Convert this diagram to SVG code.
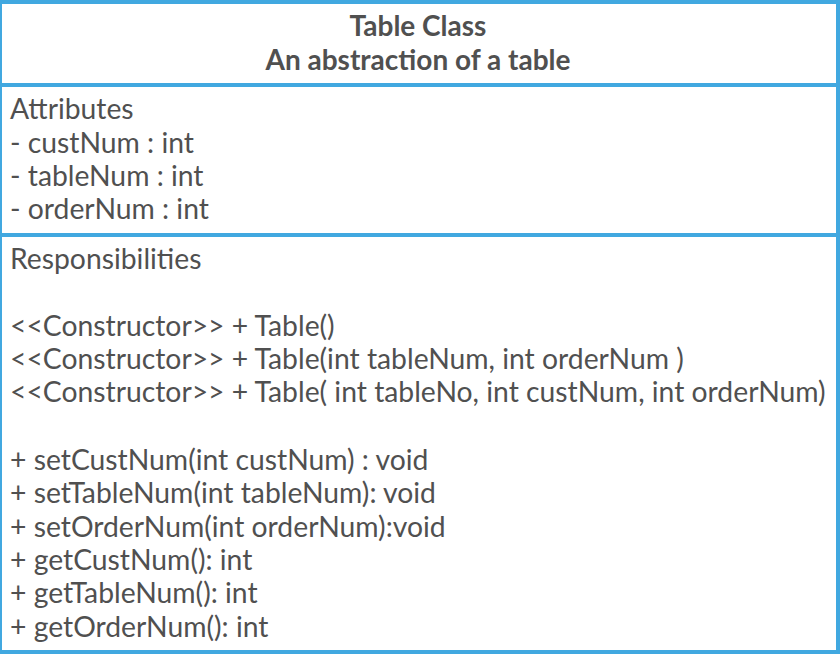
<svg xmlns="http://www.w3.org/2000/svg" width="840" height="654" viewBox="0 0 840 654">
<style>
.t{font-family:Lato,"Open Sans",sans-serif;font-size:28.3px;fill:#505050}
.b{font-weight:bold;text-anchor:middle;font-size:28px}
.ln{stroke:#41a8e0;stroke-width:4;fill:none}
</style>
<g id="table-class">
<rect x="0" y="2" width="838" height="650" fill="#ffffff" class="ln"/>
<line x1="0" y1="85" x2="838" y2="85" class="ln"/>
<line x1="0" y1="235" x2="838" y2="235" class="ln"/>
<text class="t b" x="418" y="36">Table Class</text>
<text class="t b" x="418" y="70">An abstraction of a table</text>
<text class="t" x="10" y="119">Attributes</text>
<text class="t" x="10" y="153">- custNum : int</text>
<text class="t" x="10" y="186">- tableNum : int</text>
<text class="t" x="10" y="219">- orderNum : int</text>
<text class="t" x="10" y="269">Responsibilities</text>
<text class="t" x="10" y="336">&lt;&lt;Constructor&gt;&gt; + Table()</text>
<text class="t" x="10" y="369">&lt;&lt;Constructor&gt;&gt; + Table(int tableNum, int orderNum )</text>
<text class="t" x="10" y="402">&lt;&lt;Constructor&gt;&gt; + Table( int tableNo, int custNum, int orderNum)</text>
<text class="t" x="10" y="470">+ setCustNum(int custNum) : void</text>
<text class="t" x="10" y="503">+ setTableNum(int tableNum): void</text>
<text class="t" x="10" y="537">+ setOrderNum(int orderNum):void</text>
<text class="t" x="10" y="570">+ getCustNum(): int</text>
<text class="t" x="10" y="603">+ getTableNum(): int</text>
<text class="t" x="10" y="637">+ getOrderNum(): int</text>
</g>
</svg>
